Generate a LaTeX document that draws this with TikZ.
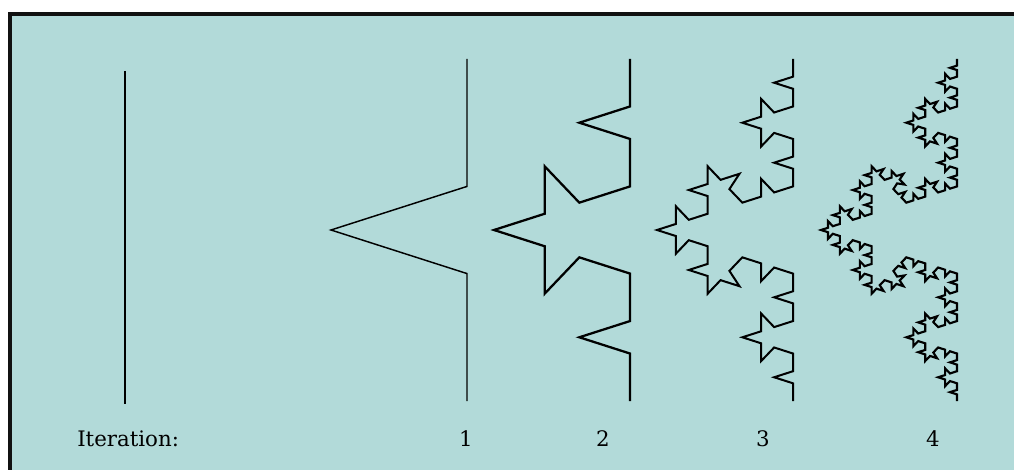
\documentclass[tikz,border=0pt]{standalone}
\usepackage{fontspec}
\newfontfamily\lblfont{DejaVu Serif}
\definecolor{panel}{HTML}{B2DAD9}
\definecolor{frameline}{HTML}{111111}
% recursive Koch-type segment (turn angle 70 deg), points appended to \kochpts
\newcommand\kochseg[5]{%
  \ifnum#1=0\relax
    \xdef\kochpts{\kochpts -- (#4,#5)}%
  \else
    \begingroup
    \pgfmathsetmacro\kdx{#4-#2}%
    \pgfmathsetmacro\kdy{#5-#3}%
    \pgfmathsetmacro\kax{#2+0.37257*\kdx}%
    \pgfmathsetmacro\kay{#3+0.37257*\kdy}%
    \pgfmathsetmacro\kbx{#2+0.5*\kdx-0.35010*\kdy}%
    \pgfmathsetmacro\kby{#3+0.5*\kdy+0.35010*\kdx}%
    \pgfmathsetmacro\kcx{#4-0.37257*\kdx}%
    \pgfmathsetmacro\kcy{#5-0.37257*\kdy}%
    \pgfmathtruncatemacro\klev{#1-1}%
    \edef\knext{%
      \noexpand\kochseg{\klev}{#2}{#3}{\kax}{\kay}%
      \noexpand\kochseg{\klev}{\kax}{\kay}{\kbx}{\kby}%
      \noexpand\kochseg{\klev}{\kbx}{\kby}{\kcx}{\kcy}%
      \noexpand\kochseg{\klev}{\kcx}{\kcy}{#4}{#5}}%
    \expandafter\endgroup\knext
  \fi}
\newcommand\kochcurve[3]{% #1 order, #2 right x, #3 line width
  \gdef\kochpts{}%
  \kochseg{#1}{0}{59}{0}{401}%
  \edef\kochdo{\noexpand\draw[curve, line width=#3, shift={(#2,0)}, xscale=1.136] (0,59) \kochpts;}%
  \kochdo}
\begin{document}
\begin{tikzpicture}[x=0.75pt, y=-0.75pt,
  curve/.style={draw=black, line join=miter, miter limit=4},
  lbltext/.style={inner sep=0pt, font=\lblfont\fontsize{16}{18}\selectfont, text=black}]
\useasboundingbox (0,0) rectangle (1014,470);
\clip (0,0) rectangle (1014,470);
\fill[white] (0,0) rectangle (1014,470);
\draw[fill=panel, draw=frameline, line width=3pt] (10,14) rectangle (1030,490);
% iteration 0
\draw[curve, line width=1.2pt] (125,71) -- (125,404);
% iterations 1-4
\kochcurve{1}{467}{1.1pt}
\kochcurve{2}{630}{1.7pt}
\kochcurve{3}{793}{1.5pt}
\kochcurve{4}{957}{1.6pt}
% labels
\node[lbltext, anchor=base west] (lbl) at (77,446) {Iteration:};
\node[lbltext, anchor=base] (n1) at (466,446) {1};
\node[lbltext, anchor=base] (n2) at (603,446) {2};
\node[lbltext, anchor=base] (n3) at (763,446) {3};
\node[lbltext, anchor=base] (n4) at (933,446) {4};
\end{tikzpicture}
\end{document}
